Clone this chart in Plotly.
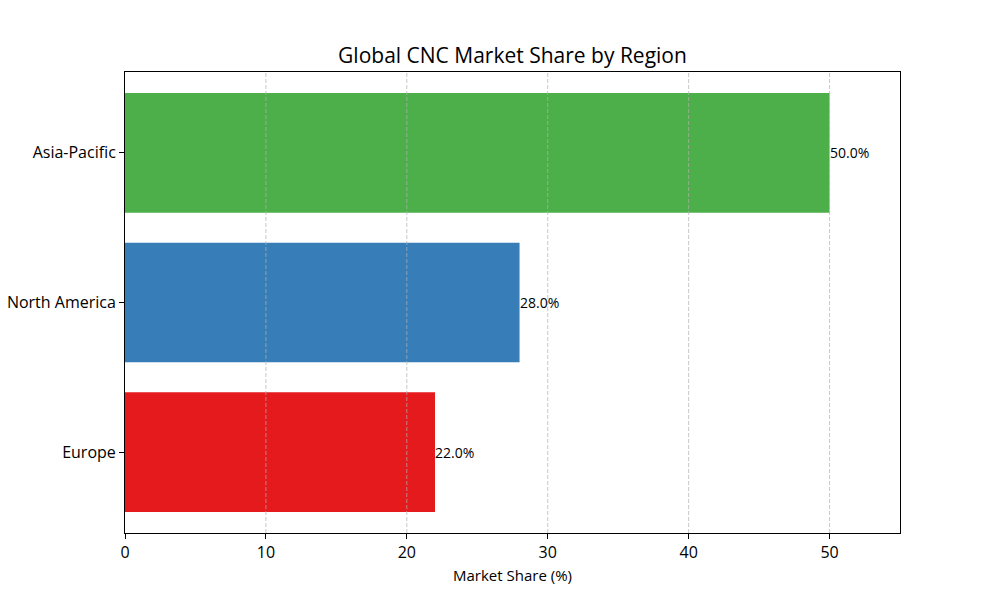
import plotly.graph_objects as go

regions = ["Europe", "North America", "Asia-Pacific"]
shares = [22.0, 28.0, 50.0]
colors = ["#e41a1c", "#377eb8", "#4daf4a"]
x_ticks = [0, 10, 20, 30, 40, 50]

FONT = "Open Sans"
GRID = "rgba(176,176,176,0.7)"

fig = go.Figure()
fig.add_trace(go.Bar(
    y=regions, x=shares, orientation="h",
    marker=dict(color=colors, line=dict(width=0)),
    width=0.8, showlegend=False, hoverinfo="x+y",
))

for r, s in zip(regions, shares):
    fig.add_annotation(x=s, y=r, text=f"{s:.1f}%", showarrow=False,
                       xanchor="left", yanchor="middle", xshift=-2,
                       font=dict(family=FONT, size=14, color="black"))

# matplotlib-style grid drawn above the bars
for t in x_ticks[1:]:
    fig.add_shape(type="line", xref="x", yref="paper", x0=t, x1=t, y0=0, y1=1,
                  layer="above", line=dict(color=GRID, width=1, dash="4px,2px"))

# page body has an 8px default margin, so the figure is 992x592
fig.update_layout(
    width=992, height=592,
    margin=dict(l=117, r=100, t=64, b=67, autoexpand=False),
    plot_bgcolor="white", paper_bgcolor="white",
    title=dict(text="Global CNC Market Share by Region", x=(512.5 - 8) / 992, xanchor="center",
               y=1 - 48 / 592, yanchor="middle",
               font=dict(family=FONT, size=21, color="black")),
    font=dict(family=FONT, color="black"),
    bargap=0.2,
)
fig.update_xaxes(
    range=[0, 55], tickvals=x_ticks, ticks="outside", ticklen=5, tickwidth=1,
    tickcolor="black", showline=True, linecolor="black", linewidth=1, mirror=True,
    showgrid=False, layer="above traces",
    zeroline=False, automargin=False, tickfont=dict(family=FONT, size=16, color="black"),
    title=dict(text="Market Share (%)", font=dict(family=FONT, size=15, color="black"), standoff=8),
)
fig.update_yaxes(
    range=[-0.54, 2.54], ticks="outside", ticklen=5, tickwidth=1, tickcolor="black",
    showline=True, linecolor="black", linewidth=1, mirror=True,
    showgrid=False, zeroline=False, automargin=False, layer="above traces",
    tickfont=dict(family=FONT, size=16, color="black"),
)

fig.write_html("out.html")
